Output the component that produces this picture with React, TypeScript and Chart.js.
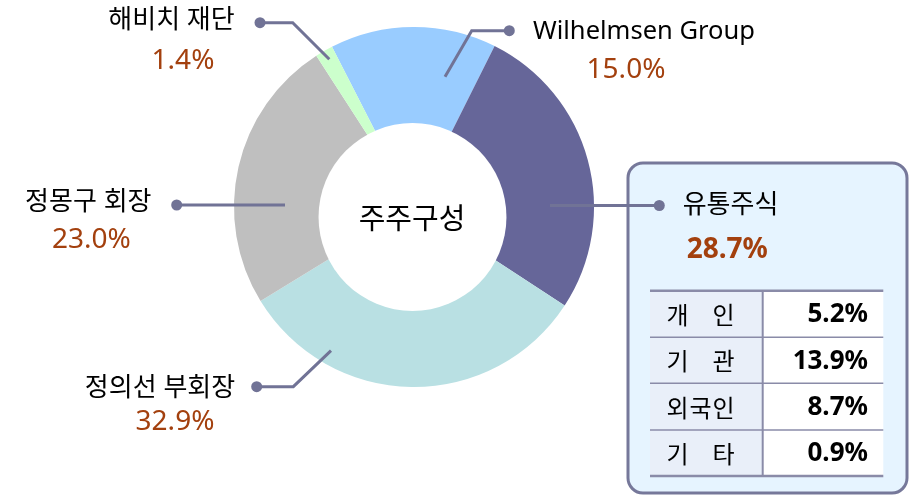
import React, { useEffect, useRef } from 'react';
import { Chart, registerables } from 'chart.js';

Chart.register(...registerables);

// ---- data ----
const categories = ['Wilhelmsen Group', '유통주식', '정의선 부회장', '정몽구 회장', '해비치 재단'];
const sliceValues = [14.9, 26.8, 32.0, 24.6, 1.6];
const percentLabels = ['15.0%', '28.7%', '32.9%', '23.0%', '1.4%'];
const floatCategories = ['개인', '기관', '외국인', '기타'];
const floatValues = ['5.2%', '13.9%', '8.7%', '0.9%'];
const centerTitle = '주주구성';

// ---- styles ----
const sliceColors = ['#99CCFF', '#666699', '#B9E0E3', '#BFBFBF', '#CCFFCC'];
const FONT = "'Noto Sans', 'Noto Sans CJK KR', sans-serif";
const KFONT = "'Noto Sans CJK KR', 'Noto Sans', sans-serif";
const LINE_COLOR = '#717396';
const PCT_COLOR = '#A3400E';

// label layout, offsets relative to the doughnut centre
const labelLayout = [
  { pts: [[31, -130.3], [57.7, -176.3], [95.3, -176.3]], name: [119, -175.5, 'left'], pct: [212, -137.3, 'center'], bold: false, nameSize: 25.5 },
  { pts: [[136, -1.5], [245.3, -1.5]], name: [268.7, -1, 'left'], pct: [272.7, 43, 'left'], bold: true, nameSize: 26 },
  { pts: [[-83, 143.7], [-120.7, 179.7], [-157.3, 179.7]], name: [-254, 181.3, 'center'], pct: [-239, 215.5, 'center'], bold: false, nameSize: 26 },
  { pts: [[-129, -2], [-237.3, -2]], name: [-325.7, -4, 'center'], pct: [-322.7, 33.3, 'center'], bold: false, nameSize: 26 },
  { pts: [[-84.7, -147.7], [-121.3, -184.3], [-154, -184.3]], name: [-242.5, -186, 'center'], pct: [-231, -146, 'center'], bold: false, nameSize: 26 },
];

function roundRect(ctx: CanvasRenderingContext2D, x: number, y: number, w: number, h: number, r: number) {
  ctx.beginPath();
  ctx.moveTo(x + r, y);
  ctx.lineTo(x + w - r, y);
  ctx.arcTo(x + w, y, x + w, y + r, r);
  ctx.lineTo(x + w, y + h - r);
  ctx.arcTo(x + w, y + h, x + w - r, y + h, r);
  ctx.lineTo(x + r, y + h);
  ctx.arcTo(x, y + h, x, y + h - r, r);
  ctx.lineTo(x, y + r);
  ctx.arcTo(x, y, x + r, y, r);
  ctx.closePath();
}

const overlayPlugin = {
  id: 'overlay',
  afterDatasetsDraw(chart: any) {
    const ctx: CanvasRenderingContext2D = chart.ctx;
    const arc = chart.getDatasetMeta(0).data[0];
    const cx = arc.x;
    const cy = arc.y;
    const R = arc.outerRadius;
    ctx.save();

    // offset hole
    ctx.fillStyle = '#ffffff';
    ctx.beginPath();
    ctx.arc(cx - 1.5, cy + 10, R * 0.522, 0, Math.PI * 2);
    ctx.fill();

    // centre title
    ctx.fillStyle = '#000000';
    ctx.font = `29px ${KFONT}`;
    ctx.textAlign = 'center';
    ctx.textBaseline = 'middle';
    ctx.fillText(centerTitle, cx - 2, cy + 11);

    // call-out box
    const bx = 628, by = 163, bw = 279, bh = 330;
    roundRect(ctx, bx, by, bw, bh, 15);
    ctx.fillStyle = '#E6F4FF';
    ctx.fill();
    ctx.lineWidth = 3;
    ctx.strokeStyle = '#76789A';
    ctx.stroke();

    // table
    const tx0 = 650, tx1 = 883.3, tmid = 762.7;
    const rowsY = [290.7, 337.3, 383.3, 430, 476];
    ctx.fillStyle = '#E9EFF9';
    ctx.fillRect(tx0, rowsY[0], tmid - tx0, rowsY[4] - rowsY[0]);
    ctx.fillStyle = '#FFFFFF';
    ctx.fillRect(tmid, rowsY[0], tx1 - tmid, rowsY[4] - rowsY[0]);
    ctx.strokeStyle = '#8A8BA8';
    rowsY.forEach((y, i) => {
      ctx.lineWidth = i === 0 || i === 4 ? 2.5 : 1.5;
      ctx.beginPath();
      ctx.moveTo(tx0, y);
      ctx.lineTo(tx1, y);
      ctx.stroke();
    });
    ctx.lineWidth = 2;
    ctx.beginPath();
    ctx.moveTo(tmid, rowsY[0]);
    ctx.lineTo(tmid, rowsY[4]);
    ctx.stroke();

    floatCategories.forEach((lab, i) => {
      const yc = (rowsY[i] + rowsY[i + 1]) / 2 + 1;
      ctx.fillStyle = '#000000';
      ctx.font = `24px ${KFONT}`;
      ctx.textAlign = 'center';
      ctx.textBaseline = 'middle';
      const chars = Array.from(lab);
      const slots = [677.5, 700.5, 723.5];
      if (chars.length === 2) {
        ctx.fillText(chars[0], slots[0], yc);
        ctx.fillText(chars[1], slots[2], yc);
      } else {
        chars.forEach((c, j) => ctx.fillText(c, slots[j], yc));
      }
      ctx.font = `bold 26px ${FONT}`;
      ctx.textAlign = 'right';
      ctx.fillText(floatValues[i], 868, yc);
    });

    // leader lines + labels
    labelLayout.forEach((L, i) => {
      const pts = L.pts.map(([dx, dy]) => [cx + dx, cy + dy]);
      ctx.strokeStyle = LINE_COLOR;
      ctx.lineWidth = 3;
      ctx.lineJoin = 'miter';
      ctx.beginPath();
      pts.forEach(([x, y], k) => (k === 0 ? ctx.moveTo(x, y) : ctx.lineTo(x, y)));
      ctx.stroke();
      const [ex, ey] = pts[pts.length - 1];
      ctx.fillStyle = LINE_COLOR;
      ctx.beginPath();
      ctx.arc(ex, ey, 5.5, 0, Math.PI * 2);
      ctx.fill();

      ctx.textBaseline = 'middle';
      ctx.fillStyle = '#000000';
      ctx.font = `${L.nameSize}px ${FONT}`;
      ctx.textAlign = L.name[2] as CanvasTextAlign;
      ctx.fillText(categories[i], cx + (L.name[0] as number), cy + (L.name[1] as number));

      ctx.fillStyle = PCT_COLOR;
      ctx.font = `${L.bold ? 'bold ' : ''}28px ${FONT}`;
      ctx.textAlign = L.pct[2] as CanvasTextAlign;
      ctx.fillText(percentLabels[i], cx + (L.pct[0] as number), cy + (L.pct[1] as number));
    });

    ctx.restore();
  },
};

export default function App() {
  const ref = useRef<HTMLCanvasElement | null>(null);
  useEffect(() => {
    if (!ref.current) return;
    const chart = new Chart(ref.current, {
      type: 'doughnut',
      data: {
        labels: categories,
        datasets: [
          {
            data: sliceValues,
            backgroundColor: sliceColors,
            borderWidth: 0,
          },
        ],
      },
      options: {
        responsive: false,
        animation: false,
        cutout: '0%',
        rotation: -27.1,
        layout: { padding: { left: 234, right: 318, top: 27, bottom: 108 } },
        plugins: { legend: { display: false }, tooltip: { enabled: false }, title: { display: false } },
      },
      plugins: [overlayPlugin],
    });
    return () => chart.destroy();
  }, []);
  return (
    <div style={{ position: 'absolute', left: 0, top: 0, width: 912, height: 495, background: '#fff' }}>
      <canvas ref={ref} width={912} height={495} style={{ display: 'block' }} />
    </div>
  );
}
